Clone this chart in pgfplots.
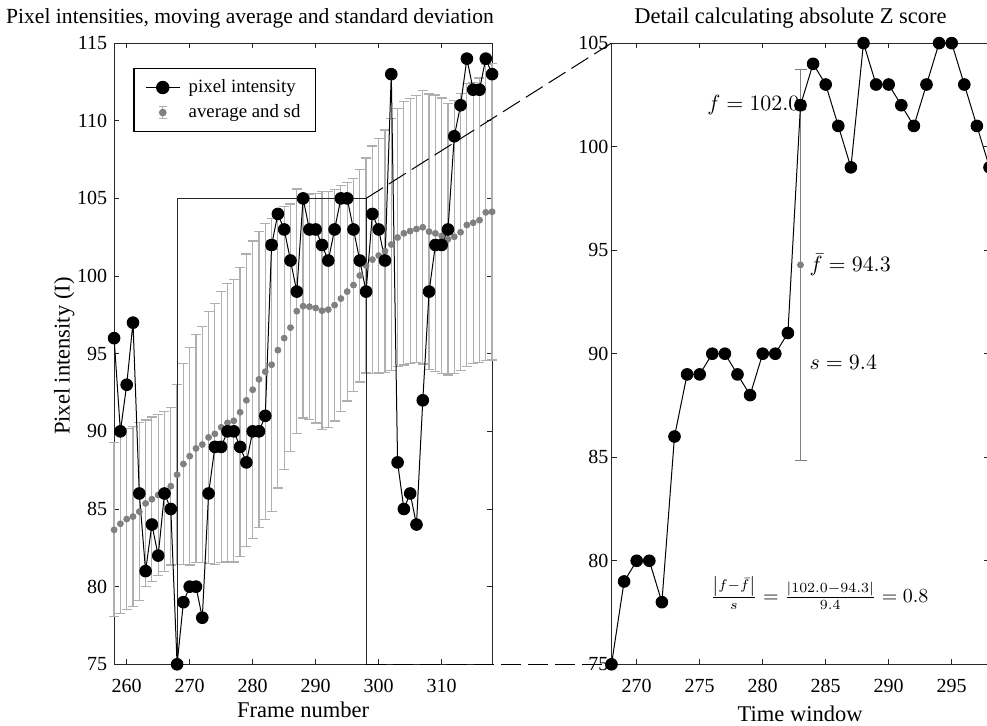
\documentclass[border=0pt]{standalone}
\usepackage{fontspec}
\setmainfont{Liberation Serif}
\usepackage{pgfplots}
\pgfplotsset{compat=1.18}
\usepackage{pgfplotstable}

\pgfplotstableread{
f v
258 96
259 90
260 93
261 97
262 86
263 81
264 84
265 82
266 86
267 85
268 75
269 79
270 80
271 80
272 78
273 86
274 89
275 89
276 90
277 90
278 89
279 88
280 90
281 90
282 91
283 102
284 104
285 103
286 101
287 99
288 105
289 103
290 103
291 102
292 101
293 103
294 105
295 105
296 103
297 101
298 99
299 104
300 103
301 101
302 113
303 88
304 85
305 86
306 84
307 92
308 99
309 102
310 102
311 103
312 109
313 111
314 114
315 112
316 112
317 114
318 113
}\pix

\pgfplotstableread{
f v
268 75
269 79
270 80
271 80
272 78
273 86
274 89
275 89
276 90
277 90
278 89
279 88
280 90
281 90
282 91
283 102
284 104
285 103
286 101
287 99
288 105
289 103
290 103
291 102
292 101
293 103
294 105
295 105
296 103
297 101
298 99
}\pixdetail

\pgfplotstableread{
f m s
258 83.66 5.60
259 84.05 5.78
260 84.35 5.83
261 84.51 5.80
262 84.83 5.74
263 85.36 5.37
264 85.63 5.29
265 85.90 5.20
266 86.14 5.15
267 86.47 5.07
268 87.21 5.80
269 87.90 6.48
270 88.40 7.00
271 88.90 7.35
272 89.15 7.60
273 89.61 8.12
274 89.84 8.39
275 90.26 8.72
276 90.55 8.96
277 90.68 9.09
278 91.23 9.30
279 92.00 9.42
280 92.68 9.58
281 93.35 9.54
282 93.84 9.54
283 94.29 9.44
284 95.23 8.88
285 96.00 8.46
286 96.68 7.96
287 97.74 7.86
288 98.06 7.20
289 98.03 7.26
290 97.94 7.40
291 97.77 7.65
292 97.84 7.59
293 98.13 7.46
294 98.55 7.29
295 99.00 7.04
296 99.42 6.87
297 100.03 6.85
298 100.68 6.92
299 101.06 7.32
300 101.32 7.56
301 101.61 7.80
302 102.03 8.11
303 102.48 8.32
304 102.75 8.48
305 102.90 8.55
306 103.03 8.61
307 103.14 8.80
308 102.86 8.86
309 102.75 8.91
310 102.58 8.88
311 102.37 8.74
312 102.53 8.78
313 102.82 8.92
314 103.29 9.09
315 103.43 9.05
316 103.60 9.15
317 104.10 9.55
318 104.14 9.54
}\avg

\definecolor{barcol}{RGB}{175,175,175}
\definecolor{dotcol}{RGB}{128,128,128}
\definecolor{axcol}{RGB}{40,40,40}

\begin{document}
\begin{tikzpicture}
\pgfplotsset{
  mystyle/.style={
    scale only axis, width=189pt, height=310.6pt,
    axis line style={axcol, line width=0.5pt},
    tick align=inside, major tick length=2.5pt,
    tick style={axcol, line width=0.5pt},
    ticklabel style={font=\fontsize{10}{12}\selectfont},
    /pgf/number format/assume math mode=true,
    label style={font=\fontsize{11.25}{13}\selectfont},
    title style={font=\fontsize{11.25}{13}\selectfont, yshift=-6pt},
    xticklabel style={yshift=-4pt},
    clip=false,
  }
}
\begin{axis}[mystyle, at={(57.05pt,30.35pt)}, anchor=south west,
  xmin=258, xmax=318, ymin=75, ymax=115,
  xtick={260,270,...,310}, ytick={75,80,...,115},
  title={Pixel intensities, moving average and standard deviation},
  title style={at={(axis description cs:0.3595,1.0403)}, anchor=center,
    font=\fontsize{10.8}{13}\selectfont},
  xlabel={Frame number},
  xlabel style={at={(axis description cs:0.5,-0.0736)}, anchor=center},
  ylabel={Pixel intensity (I)},
  ylabel style={at={(axis description cs:-0.132,0.496)}, anchor=center},
  legend style={at={(axis description cs:0.05,0.9604)}, anchor=north west,
    draw=black, line width=0.8pt, font=\fontsize{9.4}{11}\selectfont,
    inner xsep=5.5pt, inner ysep=3.5pt, row sep=0.5pt, column sep=2pt},
  legend cell align=left,
]
\addlegendimage{black, line width=0.9pt, mark=*, mark size=2.9pt}
\addlegendentry{pixel intensity}
\addlegendimage{legend image code/.code={
  \draw[barcol, line width=0.6pt] (0.3cm,-3pt) -- (0.3cm,3pt);
  \draw[barcol, line width=0.6pt] (0.3cm-2pt,-3pt) -- (0.3cm+2pt,-3pt);
  \draw[barcol, line width=0.6pt] (0.3cm-2pt,3pt) -- (0.3cm+2pt,3pt);
  \fill[dotcol] (0.3cm,0pt) circle (1.5pt);
}}
\addlegendentry{average and sd}

\addplot[forget plot, only marks, mark=*, mark size=1.5pt, color=dotcol,
  mark options={fill=dotcol, draw=dotcol},
  error bars/.cd, y dir=both, y explicit,
  error bar style={color=barcol, line width=0.6pt},
  error mark options={rotate=90, color=barcol, line width=0.6pt, mark size=2.5pt}]
  table[x=f, y=m, y error=s] {\avg};

\draw[black!85, line width=0.5pt] (axis cs:268,75) rectangle (axis cs:298,105);

\addplot[forget plot, black, line width=0.5pt, mark=*, mark size=2.9pt,
  mark options={fill=black}] table[x=f, y=v] {\pix};
\addplot[forget plot, only marks, mark=x, mark size=3.3pt, black,
  mark options={line width=0.9pt}] coordinates {(283,102)};

\coordinate (L1) at (axis cs:298,105);
\coordinate (L2) at (axis cs:298,75);
\end{axis}

\begin{axis}[mystyle, at={(305.75pt,30.35pt)}, anchor=south west,
  xmin=268, xmax=298, ymin=75, ymax=105,
  xtick={270,275,...,295}, ytick={75,80,...,105},
  title={Detail calculating absolute Z score},
  title style={at={(axis description cs:0.4735,1.0403)}, anchor=center},
  xlabel={Time window},
  xlabel style={at={(axis description cs:0.499,-0.079)}, anchor=center},
  yticklabel style={xshift=2pt},
]
\addplot[only marks, mark=*, mark size=1.5pt, color=dotcol,
  mark options={fill=dotcol, draw=dotcol},
  error bars/.cd, y dir=both, y explicit,
  error bar style={color=dotcol, line width=0.5pt},
  error mark options={rotate=90, color=dotcol, line width=0.5pt, mark size=3pt}]
  coordinates {(283,94.29) +- (0,9.44)};

\addplot[black, line width=0.5pt, mark=*, mark size=2.9pt,
  mark options={fill=black}] table[x=f, y=v] {\pixdetail};
\addplot[only marks, mark=x, mark size=3.3pt, black,
  mark options={line width=0.9pt}] coordinates {(283,102)};

\node[anchor=east, xshift=3pt, font=\fontsize{10.5}{12}\selectfont] at (axis cs:283,102) {$f = 102.0$};
\node[anchor=west, xshift=1pt, font=\fontsize{10.5}{12}\selectfont] at (axis cs:283,94.29) {$\bar f = 94.3$};
\node[anchor=west, xshift=1pt, font=\fontsize{10.5}{12}\selectfont] at (axis cs:283,89.6) {$s = 9.4$};
\node[font=\fontsize{10}{12}\selectfont] at (axis cs:284.5,78.45)
  {$\frac{\left|f-\bar f\right|}{s} = \frac{|102.0-94.3|}{9.4} = 0.8$};

\coordinate (R1) at (axis cs:268,105);
\coordinate (R2) at (axis cs:268,75);
\end{axis}

\draw[black, line width=0.5pt, dash pattern=on 10pt off 3.5pt] (L1) -- (R1);
\draw[black, line width=0.5pt, dash pattern=on 10pt off 3.5pt] (L2) -- (R2);

\pgfresetboundingbox
\path[use as bounding box] (0pt,0pt) rectangle (493.5pt,362.5pt);
\end{tikzpicture}
\end{document}
